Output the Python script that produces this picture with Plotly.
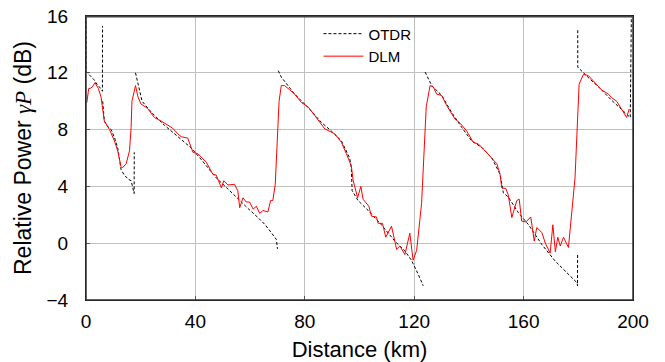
import plotly.graph_objects as go

# OTDR trace (None separates strokes)
otdr_km = [0, 0, 1, 2, 3, 4, 5, 5.8, 6.0, 6.05, None,
           6.1, 6.7, 8, 9.2, 10.4, 11.6, 12.8, 14, 15.5, 16.5, 17.6, 17.65, None,
           18.1, 19.5, 20.5, 24, 28.7, 33, 38.5, 42.1, 47.6, 52, 56.2, 59.5, 62.9, 65.5, 67.8, 69.6, 70.0, None,
           70.3, 71.4, 76.3, 81.2, 86.1, 89.7, 93.4, 96.4, 97.0, 97.3, 99.5, 103.2, 108, 112.9, 116.6, 119, 121.5, 123.3, None,
           124.0, 126.4, 130.1, 133.7, 137.4, 141, 144.7, 148.4, 151.4, 152.6, 154.4, 158.1, 161.8, 166.7, 171.6, 175.2, 178.3, 179.6, 179.7, 179.75, None,
           179.8, 179.8, 184, 188, 192, 196, 199.0, 199.4]
otdr_db = [16, 12.1, 11.9, 11.7, 11.5, 11.2, 11.0, 10.8, 10.7, 15.3, None,
           10.0, 8.6, 8.2, 8.0, 7.45, 6.7, 5.2, 4.8, 4.5, 4.4, 3.5, 6.4, None,
           12.0, 10.7, 10.0, 9.2, 8.3, 7.6, 6.7, 5.9, 4.6, 3.8, 3.0, 2.4, 1.8, 1.3, 0.73, 0.26, -0.4, None,
           12.15, 11.7, 10.5, 9.55, 8.5, 7.9, 7.2, 6.0, 5.3, 3.7, 3.0, 2.3, 1.3, 0.15, -0.55, -1.2, -2.2, -3.0, None,
           12.05, 11.1, 10.4, 9.2, 8.15, 7.2, 6.75, 6.0, 4.85, 3.55, 3.25, 2.15, 1.3, -0.1, -1.27, -1.95, -2.55, -2.8, -3.0, -0.8, None,
           15.0, 12.4, 11.6, 10.9, 10.1, 9.4, 8.85, 16]

# DLM trace
dlm_km = [0.3, 1.0, 1.5, 2.3, 3.3, 4.5, 5.5, 6.7, 8.6, 10.4, 11.6, 12.8, 13.3, 14.7, 15.9, 16.5, 16.8, 17.7, 18.1, 19.0, 20.1,
          22.5, 25, 27.5, 29.9, 31.7, 33.6, 34.8, 37.2, 39.1, 40.9, 44, 46.4, 47.6, 49.5, 50.4, 51.9, 54.3, 55.5, 56.2,
          57.4, 58.6, 59.8, 61.1, 62.3, 63.5, 64.7, 66.5, 67.5, 68.3, 69.2, 69.8, 70.6, 71.4, 72.6, 74.5, 76.3, 78.8, 81.2,
          83.6, 87.3, 91, 93.4, 95.2, 97, 97.7, 99.3, 100.5, 101.3, 103.4, 104.4, 106.2, 106.8, 108.4, 109.6, 111.7,
          113.6, 114.8, 116.6, 118.4, 119.6, 120.9, 122.7, 124.4, 125.8, 127, 128.2, 130.1, 131.3, 133.1, 134.9, 136.8,
          139.2, 141.6, 143.4, 145.9, 148.4, 150.2, 151.4, 152, 153.5, 154.4, 155.7, 157.5, 158.4, 159.3, 160.9, 162.6,
          163.9, 164.8, 166.7, 167.9, 169.7, 170.7, 171.6, 172.5, 173.4, 174.6, 176.4, 177.6, 178.8, 180.3, 181.9, 183.7,
          186.1, 188.5, 191, 192.2, 194, 195.2, 197.7, 198.6]
dlm_db = [9.9, 10.9, 10.9, 11.0, 11.3, 10.9, 10.3, 8.6, 8.0, 7.2, 6.5, 5.4, 5.3, 5.6, 6.5, 8.15, 10.0, 10.9, 11.1, 10.3, 9.8,
          9.5, 8.85, 8.6, 8.3, 8.1, 7.7, 7.5, 7.4, 6.4, 6.3, 5.7, 4.85, 4.8, 3.9, 4.4, 4.1, 4.15, 3.7, 2.5,
          3.2, 2.9, 2.9, 2.4, 2.6, 2.1, 2.3, 2.2, 3.0, 3.0, 4.15, 6.5, 10.0, 11.1, 11.1, 10.8, 10.5, 9.9, 9.6,
          9.0, 8.05, 7.7, 7.1, 6.3, 5.45, 4.4, 3.2, 4.0, 3.1, 2.6, 1.9, 1.85, 1.4, 1.4, 0.42, 1.2,
          -0.45, -0.2, -0.8, 0.7, -1.2, -0.5, 2.8, 9.6, 11.1, 11.0, 10.5, 10.4, 9.9, 9.3, 8.75, 8.45,
          7.9, 7.1, 7.0, 6.5, 6.0, 5.6, 4.85, 3.9, 3.85, 3.4, 1.8, 3.0, 3.1, 1.55, 1.5, 1.85,
          0.15, 1.1, 0.75, 0.02, -0.7, 1.3, -0.6, 0.42, -0.2, 0.42, -0.3, 2.3, 4.6, 11.2, 11.9, 11.8,
          11.3, 10.8, 10.5, 10.25, 10.0, 9.65, 8.85, 9.45]

x_ticks = [0, 40, 80, 120, 160, 200]
y_ticks = [-4, 0, 4, 8, 12, 16]

fig = go.Figure()
fig.add_trace(go.Scatter(x=otdr_km, y=otdr_db, mode="lines", name="OTDR",
                         line=dict(color="black", width=1, dash="3px,2px"), connectgaps=False))
fig.add_trace(go.Scatter(x=dlm_km, y=dlm_db, mode="lines", name="DLM",
                         line=dict(color="#ff0000", width=1)))

font = "Liberation Sans, Arial, sans-serif"
fig.update_layout(
    width=665, height=362,
    margin=dict(l=86, r=32, t=16, b=62, autoexpand=False),
    plot_bgcolor="white", paper_bgcolor="white",
    font=dict(family=font, size=16, color="black"),
    showlegend=True,
    legend=dict(x=0.425, y=0.995, xanchor="left", yanchor="top",
                bgcolor="rgba(255,255,255,0)", borderwidth=0,
                font=dict(size=15), tracegroupgap=0, itemwidth=40),
    xaxis=dict(range=[0, 200], tickvals=x_ticks, showgrid=True, gridcolor="#c0c0c0", gridwidth=1,
               zeroline=False, showline=True, linecolor="black", linewidth=1, mirror=True,
               ticks="inside", ticklen=4, tickcolor="#555", automargin=False,
               ticklabelstandoff=4,
               title=dict(text="Distance (km)", font=dict(size=22), standoff=11),
               tickfont=dict(size=19)),
    yaxis=dict(range=[-4, 16], tickvals=y_ticks, showgrid=True, gridcolor="#c0c0c0", gridwidth=1,
               zeroline=False, showline=True, linecolor="black", linewidth=1, mirror=True,
               ticks="inside", ticklen=4, tickcolor="#555", automargin=False,
               ticklabelstandoff=13,
               title=dict(text="Relative Power <i><span style='font-family:Liberation Serif, Times New Roman, serif'>γP</span></i> (dB)",
                          font=dict(size=23), standoff=8),
               tickfont=dict(size=19)),
    shapes=[dict(type="rect", xref="paper", yref="paper", x0=0, y0=0, x1=1, y1=1,
                 line=dict(color="#333", width=1.5), fillcolor="rgba(0,0,0,0)", layer="above"),
            dict(type="line", xref="paper", yref="paper", x0=0, y0=0.997, x1=1, y1=0.997,
                 line=dict(color="#444", width=1.5), layer="above")],
)

fig.write_html("out.html", config={"displayModeBar": False},
               post_script="document.body.style.margin='0px';document.body.style.overflow='hidden';")
